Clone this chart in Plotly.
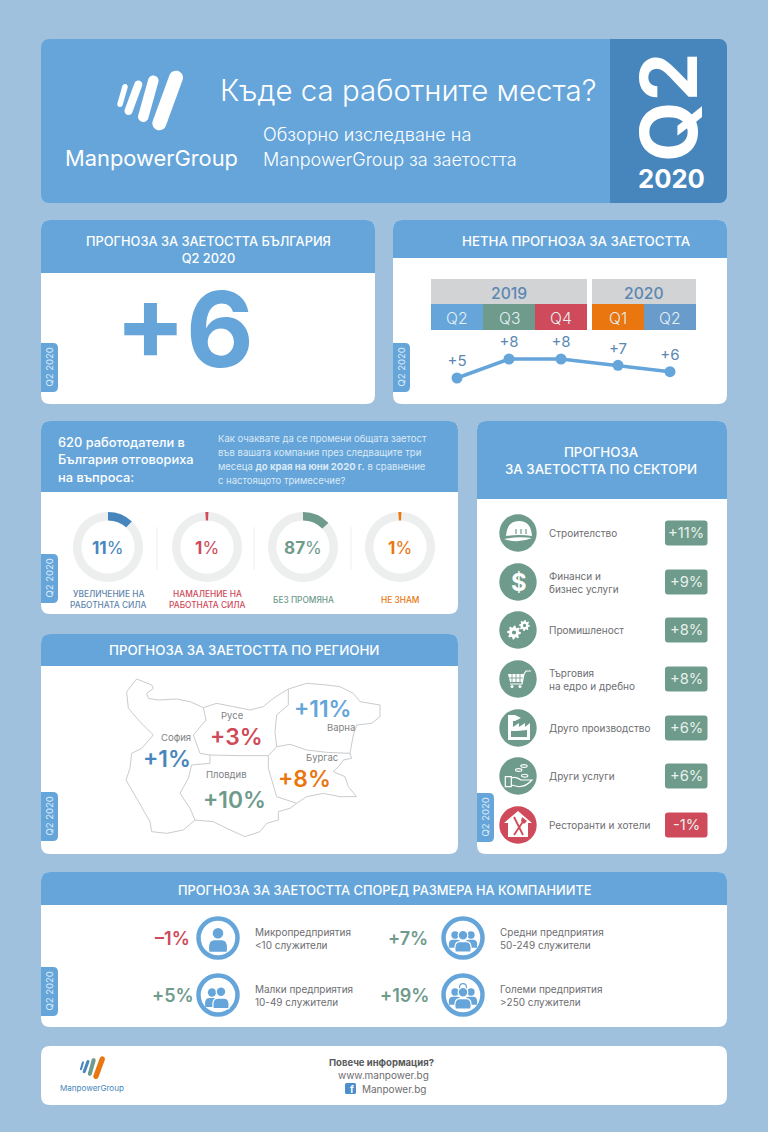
import numpy as np
import plotly.graph_objects as go

# --- data ---
net_quarters = ["Q2", "Q3", "Q4", "Q1", "Q2"]
net_years = ["2019", "2020"]
net_values = [5, 8, 8, 7, 6]
net_pos = [0, 1, 2, 3.096, 4.096]  # small gap where the year changes

answer_labels = [["УВЕЛИЧЕНИЕ НА", "РАБОТНАТА СИЛА"], ["НАМАЛЕНИЕ НА", "РАБОТНАТА СИЛА"], ["БЕЗ ПРОМЯНА"], ["НЕ ЗНАМ"]]
answer_values = [11, 1, 87, 1]
answer_arcs = [12, 1.6, 13, 1.6]  # how much of each ring is coloured in the original

region_names = ["София", "Русе", "Варна", "Пловдив", "Бургас"]
region_values = [1, 3, 11, 10, 8]

sector_labels = [["Строителство"], ["Финанси и", "бизнес услуги"], ["Промишленост"], ["Търговия", "на едро и дребно"],
                 ["Друго производство"], ["Други услуги"], ["Ресторанти и хотели"]]
sector_values = [11, 9, 8, 8, 6, 6, -1]

size_labels = [["Микропредприятия", "<10 служители"], ["Малки предприятия", "10-49 служители"],
               ["Средни предприятия", "50-249 служители"], ["Големи предприятия", ">250 служители"]]
size_values = [-1, 5, 7, 19]

W, H = 768, 1132
BG = "#A0C1DD"
BLUE = "#65A5DA"
DARK = "#4786BC"
GREEN = "#6E9B8B"
RED = "#CF4A5A"
ORANGE = "#E9760F"
GREY = "#6D6E71"
FONT = "Inter"
FS = 0.95

shapes = []
annotations = []


def text(x, y, s, size=12, color=GREY, anchor="center", angle=0, weight=None):
    f = dict(size=size*FS, color=color, family=FONT)
    if weight:
        f["weight"] = weight
    annotations.append(dict(x=x, y=y, xref="x", yref="y", text=s, showarrow=False, xanchor=anchor, yanchor="middle",
                            font=f, textangle=angle, borderpad=0))


def path(d, fill="white", line=None, width=0):
    shapes.append(dict(type="path", path=d, xref="x", yref="y", fillcolor=fill, layer="below",
                       line=dict(color=line or "rgba(0,0,0,0)", width=width)))


def rrect(x0, y0, x1, y1, r=9, tl=True, tr=True, br=True, bl=True, fill="white"):
    a, b, c, d = [r if k else 0 for k in (tl, tr, br, bl)]
    p = (f"M{x0+a},{y0} L{x1-b},{y0} Q{x1},{y0} {x1},{y0+b} L{x1},{y1-c} Q{x1},{y1} {x1-c},{y1} "
         f"L{x0+d},{y1} Q{x0},{y1} {x0},{y1-d} L{x0},{y0+a} Q{x0},{y0} {x0+a},{y0} Z")
    path(p, fill)


def circle(cx, cy, r, fill="white", line=None, width=0, ry=None):
    ry = ry or r
    shapes.append(dict(type="circle", xref="x", yref="y", x0=cx-r, x1=cx+r, y0=cy-ry, y1=cy+ry, fillcolor=fill, layer="below",
                       line=dict(color=line or "rgba(0,0,0,0)", width=width)))


def poly(pts, cx=0, cy=0, fill="white", line=None, width=0, close=True):
    d = "M" + " L".join(f"{cx+px:.2f},{cy+py:.2f}" for px, py in pts) + (" Z" if close else "")
    path(d, fill if close else "rgba(0,0,0,0)", line, width)


def capsule(x0, y0, x1, y1, w, fill="white"):
    ang = np.arctan2(y1-y0, x1-x0)
    t = np.linspace(np.pi/2, 3*np.pi/2, 12)
    pts = [(x0+w/2*np.cos(ang+a), y0+w/2*np.sin(ang+a)) for a in t]
    pts += [(x1+w/2*np.cos(ang+a-np.pi), y1+w/2*np.sin(ang+a-np.pi)) for a in t]
    poly(pts, fill=fill)


def card(x0, y0, x1, y1, head):
    rrect(x0, y0, x1, y1)
    if head:
        rrect(x0, y0, x1, head, tl=True, tr=True, br=False, bl=False, fill=BLUE)


def tab(x, y):
    rrect(x, y, x+17, y+49, r=5, tl=False, bl=False, fill=BLUE)
    text(x+8, y+24.5, "Q2 2020", 10, "#DCEBF7", angle=-90)


def logo(ox, oy, k, colors):
    stripes = [(5, 9, 0, 26.6, 5.5), (18.3, 6.8, 8.5, 33.3, 8), (33.3, 3, 23.3, 39, 10.5), (56, 0, 39.3, 45.6, 14)]
    for (a, b, c, d, w), col in zip(stripes, colors):
        capsule(ox+a*k, oy+b*k, ox+c*k, oy+d*k, w*k, col)


def gear(cx, cy, r, teeth=8):
    a = np.linspace(0, 2*np.pi, teeth*4, endpoint=False)
    rr = np.where(np.arange(teeth*4) % 4 < 2, r, r*0.72)
    poly(list(zip(rr*np.cos(a), rr*np.sin(a))), cx, cy)
    circle(cx, cy, r*0.3, GREEN)


def person(cx, cy, k, fill=BLUE, line=None, width=0):
    circle(cx, cy-5*k, 4.6*k, fill, line, width)
    path(f"M{cx-7.5*k},{cy+11*k} Q{cx-9*k},{cy+1*k} {cx-3*k},{cy+1*k} L{cx+3*k},{cy+1*k} "
         f"Q{cx+9*k},{cy+1*k} {cx+7.5*k},{cy+11*k} Z", fill, line, width)


# --- cards ---
rrect(41, 39, 727, 203, fill=BLUE)
rrect(610, 39, 727, 203, tl=False, bl=False, fill=DARK)
card(41, 220, 375, 404, 273)
card(393, 220, 727, 404, 258)
card(41, 421, 458, 614, 492)
card(41, 634, 458, 854, 666)
card(477, 421, 727, 854, 499)
card(41, 872, 727, 1027, 905)
card(41, 1046, 727, 1105, None)
for tx, ty in [(41, 343), (393, 343), (41, 554), (41, 792), (477, 793), (41, 967)]:
    tab(tx, ty)

# --- title block ---
logo(120, 77.7, 1.0, ["white"]*4)
text(151, 158, "ManpowerGroup", 23, "white")
text(408, 90, "Къде са работните места?", 31, "white", weight=300)
text(262, 134, "Обзорно изследване на", 19, "white", anchor="left", weight=300)
text(262, 159, "ManpowerGroup за заетостта", 19, "white", anchor="left", weight=300)
text(669, 107, "Q2", 82, "white", angle=-90, weight=700)
text(671, 178, "2020", 27, "white", weight=700)

# --- headline forecast ---
text(208, 249.5, "ПРОГНОЗА ЗА ЗАЕТОСТТА БЪЛГАРИЯ<br>Q2 2020", 13.5, "white", weight=500)
text(184, 329, f"{net_values[-1]:+d}", 110, BLUE, weight=700)

# --- net forecast table ---
text(576, 241, "НЕТНА ПРОГНОЗА ЗА ЗАЕТОСТТА", 14, "white", weight=500)
year_spans = [(431, 587), (592, 696)]
for yr, (x0, x1) in zip(net_years, year_spans):
    shapes.append(dict(type="rect", xref="x", yref="y", x0=x0, x1=x1, y0=279, y1=304, fillcolor="#D1D3D4", line_width=0, layer="below"))
    text((x0+x1)/2, 293, yr, 16.5, "#5B87B2", weight=500)
cell_x = [431, 483, 535, 592, 644]
cell_colors = [BLUE, GREEN, RED, ORANGE, "#6A9CCB"]
for q, cx, col in zip(net_quarters, cell_x, cell_colors):
    shapes.append(dict(type="rect", xref="x", yref="y", x0=cx, x1=cx+52, y0=304, y1=330, fillcolor=col, line_width=0, layer="below"))
    text(cx+26, 318, q, 16.5, "#E4EFF3", weight=300)

fig = go.Figure()
px_per_pos = 52
px_per_val = 6.33
fig.add_trace(go.Scatter(x=net_pos, y=net_values, mode="lines+markers+text", xaxis="x2", yaxis="y2",
                         text=[f"{v:+d}" for v in net_values], textposition="top center",
                         textfont=dict(size=15, color="#5B87B2", family=FONT),
                         line=dict(color=BLUE, width=3.5), marker=dict(size=11, color=BLUE),
                         cliponaxis=False, showlegend=False))

# --- survey question + rings ---
for i, s in enumerate(["620 работодатели в", "България отговориха", "на въпроса:"]):
    text(57, 442+17.5*i, s, 13.5, "white", anchor="left", weight=500)
q_lines = ["Как очаквате да се промени общата заетост", "във вашата компания през следващите три",
           "месеца <b>до края на юни 2020 г.</b> в сравнение", "с настоящото тримесечие?"]
for i, s in enumerate(q_lines):
    text(217, 438+14.3*i, s, 10, "#DCEAF6", anchor="left")

ring_x = [108, 207, 303, 400]
ring_y = 547
ring_r = 35
ring_colors = [DARK, RED, GREEN, ORANGE]
label_colors = ["#5F86AE", RED, GREEN, ORANGE]
ring_dir = ["clockwise", "clockwise", "counterclockwise", "clockwise"]
ring_rot = [0, -3, 0, -3]
for cx, arc, val, col, lcol, lab, d, rot in zip(ring_x, answer_arcs, answer_values, ring_colors, label_colors,
                                                answer_labels, ring_dir, ring_rot):
    fig.add_trace(go.Pie(values=[arc, 100-arc], sort=False, direction=d, rotation=rot, hole=0.76,
                         marker=dict(colors=[col, "#EDEEEE"], line=dict(width=0)), textinfo="none",
                         showlegend=False,
                         domain=dict(x=[(cx-ring_r)/W, (cx+ring_r)/W], y=[1-(ring_y+ring_r)/H, 1-(ring_y-ring_r)/H])))
    text(cx, ring_y+0.5, f"<b>{val}</b>%", 18, col)
    ys = [594, 605] if len(lab) == 2 else [600]
    for y, s in zip(ys, lab):
        text(cx, y, s, 8.8, lcol, weight=500)
for sx in [157, 254, 351]:
    shapes.append(dict(type="line", xref="x", yref="y", x0=sx, x1=sx, y0=527, y1=570, line=dict(color="#EEEEEE", width=1), layer="below"))

# --- regions ---
text(244, 650, "ПРОГНОЗА ЗА ЗАЕТОСТТА ПО РЕГИОНИ", 14, "white", weight=500)
outer = [(110, 42), (155, 60), (160, 70), (140, 85), (145, 100), (175, 105), (230, 102), (270, 110), (310, 128), (350, 115),
         (400, 125), (450, 135), (490, 125), (520, 100), (565, 72), (620, 55), (680, 60), (720, 65), (760, 85), (780, 110),
         (840, 120), (840, 155), (815, 175), (770, 180), (760, 210), (750, 265), (755, 280), (730, 285), (720, 300), (700, 320),
         (735, 335), (745, 365), (770, 395), (720, 395), (670, 385), (620, 395), (590, 415), (570, 430), (535, 440), (535, 465),
         (500, 475), (480, 500), (435, 515), (380, 490), (340, 470), (285, 465), (250, 495), (200, 505), (155, 500), (150, 470),
         (110, 400), (78, 345), (90, 310), (95, 265), (125, 250), (160, 210), (120, 170), (85, 130), (80, 80), (110, 42)]
borders = [[(310, 128), (318, 165), (280, 210), (300, 265), (330, 270), (330, 295), (275, 300), (265, 340), (240, 385), (270, 430), (285, 465)],
           [(330, 270), (420, 272), (505, 272), (530, 245), (525, 200), (530, 150), (565, 120), (565, 72)],
           [(530, 245), (570, 238), (620, 255), (680, 262), (750, 265)],
           [(505, 272), (505, 310), (530, 395), (590, 415)]]
for ln in [outer] + borders:
    poly([(100+a/3, 665+b/3) for a, b in ln], line="#C9CBCD", width=1, close=False)
name_xy = [(176, 737), (232, 715), (341, 727), (226, 774), (322, 757)]
val_xy = [(167, 758), (236, 736), (323, 708), (234, 799), (304, 778)]
reg_colors = [DARK, RED, BLUE, GREEN, ORANGE]
for n, v, (nx, ny), (vx, vy), col in zip(region_names, region_values, name_xy, val_xy, reg_colors):
    text(nx, ny, n, 10, "#808285")
    text(vx, vy, f"{v:+d}%", 24, col, weight=600)

# --- sectors ---
text(601, 460.5, "ПРОГНОЗА<br>ЗА ЗАЕТОСТТА ПО СЕКТОРИ", 14, "white", weight=500)
sector_y = [533, 582, 630, 679, 728, 776, 825]
for lab, v, cy in zip(sector_labels, sector_values, sector_y):
    col = RED if v < 0 else GREEN
    circle(518, cy, 18.7, col)
    rrect(665, cy-12.5, 707.5, cy+12.5, r=3, fill=col)
    text(686, cy, f"{v:+d}%", 15.5, "#E8F0EC")
    if len(lab) == 2:
        text(548, cy-6.5, lab[0], 10.5, GREY, anchor="left")
        text(548, cy+6.5, lab[1], 10.5, GREY, anchor="left")
    else:
        text(548, cy, lab[0], 10.5, GREY, anchor="left")

# sector icons
cy = sector_y[0]
path(f"M506,{cy+3} Q507,{cy-12} 519,{cy-12} Q531,{cy-12} 532,{cy+3} Q519,{cy+1} 506,{cy+3} Z")
path(f"M504,{cy+6} Q518,{cy+3} 532,{cy+5} Q518,{cy+11} 504,{cy+6} Z")
for dx in [-2, 3, 8]:
    shapes.append(dict(type="line", xref="x", yref="y", x0=518+dx, x1=518+dx, y0=cy-4, y1=cy+1, line=dict(color=GREEN, width=1.2), layer="below"))
text(518.5, sector_y[1], "$", 25, "white", weight=700)
gear(514, sector_y[2]+2.5, 7)
gear(524.5, sector_y[2]-4.5, 5.5)
cy = sector_y[3]
poly([(508, cy-5), (524, cy-5), (522, cy+3), (510, cy+3)], fill="white")
for gx in [512, 516, 520]:
    shapes.append(dict(type="line", xref="x", yref="y", x0=gx, x1=gx, y0=cy-5, y1=cy+3, line=dict(color=GREEN, width=0.8), layer="below"))
shapes.append(dict(type="line", xref="x", yref="y", x0=509, x1=523, y0=cy-1, y1=cy-1, line=dict(color=GREEN, width=0.8), layer="below"))
poly([(524, cy-5), (522, cy+5), (510, cy+5)], line="white", width=1.2, close=False)
poly([(524, cy-5), (526, cy-8), (531, cy-8)], line="white", width=1.2, close=False)
circle(512, cy+7.5, 1.5)
circle(520, cy+7.5, 1.5)
cy = sector_y[4]
poly([(-10, 12), (-10, -7), (-5, -7), (-5, -1), (1, -5), (1, -1), (7, -5), (7, -1), (12, -5), (12, 12)], 518, cy)
poly([(-7, 9), (-7, 3), (-1, 3), (9, 2), (9, 9)], 518, cy, fill=GREEN)
poly([(-10, -13), (-3, -13), (3, -10), (-3, -7), (-10, -7)], 518, cy)
cy = sector_y[5]
poly([(-12.7, 0.7), (-6.7, 0.7), (-6.7, 10.7), (-12.7, 10.7)], 518, cy, fill="rgba(0,0,0,0)", line="white", width=1.2)
path(f"M{518-6.7},{cy+2} Q{518-2},{cy} {518+3},{cy+4} L{518+14},{cy+4} Q{518+8},{cy+11} {518},{cy+10.5} L{518-6.7},{cy+9}",
     "rgba(0,0,0,0)", "white", 1.2)
for dx, dy in [(0.7, -6), (6, -10), (6.7, -0.3)]:
    circle(518+dx, cy+dy, 3.2, "rgba(0,0,0,0)", "white", 1.1, ry=1.4)
cy = sector_y[6]
poly([(0, -14), (14, -2), (10, -2), (10, 12), (-10, 12), (-10, -2), (-14, -2)], 518, cy)
shapes.append(dict(type="line", xref="x", yref="y", x0=514, x1=523, y0=cy-8, y1=cy+10, line=dict(color=RED, width=1.8), layer="below"))
shapes.append(dict(type="line", xref="x", yref="y", x0=524, x1=514, y0=cy-5, y1=cy+10, line=dict(color=RED, width=1.8), layer="below"))
poly([(522, cy-8), (527, cy-4), (524, cy-1), (521, cy-4)], fill=RED)

# --- company size ---
text(384, 890, "ПРОГНОЗА ЗА ЗАЕТОСТТА СПОРЕД РАЗМЕРА НА КОМПАНИИТЕ", 13.5, "white", weight=500)
icon_x = [218, 218, 463, 463]
icon_y = [938, 995, 938, 995]
val_x = [172, 173, 408, 404]
text_x = [254, 254, 499, 499]
for i, (lab, v) in enumerate(zip(size_labels, size_values)):
    col = RED if v < 0 else GREEN
    text(val_x[i], icon_y[i]+0.5, f"{v:+d}%".replace("-", "–"), 19, col, weight=600)
    circle(icon_x[i], icon_y[i], 19.5, "white", BLUE, 4.5)
    text(text_x[i], icon_y[i]-6.5, lab[0], 10.5, GREY, anchor="left")
    text(text_x[i], icon_y[i]+6.5, lab[1], 10.5, GREY, anchor="left")
    ix, iy = icon_x[i], icon_y[i]
    if i == 0:
        person(ix, iy+1, 1.15)
    if i == 1:
        person(ix-6, iy+2, 0.9)
        person(ix+3, iy+2, 1.05, line="white", width=1.2)
    if i >= 2:
        if i == 3:
            circle(ix, iy-8, 3.4, "white", BLUE, 1.2)
        person(ix-8, iy+1, 0.8)
        person(ix+8, iy+1, 0.8)
        person(ix, iy+2.5, 1.05, line="white", width=1.2)

# --- footer ---
logo(81, 1059, 0.38, ["#4786BC", DARK, GREEN, ORANGE])
text(92, 1088, "ManpowerGroup", 8.5, DARK)
text(381, 1062, "Повече информация?", 10, "#58595B", weight=700)
text(383, 1075, "www.manpower.bg", 10.5, GREY)
rrect(345, 1083, 356, 1094, r=1.5, fill="#4C8FCB")
text(351.5, 1089, "f", 10, "white", weight=700)
text(361, 1088.5, "Manpower.bg", 10.5, GREY, anchor="left")

# net forecast axes: pixel box 440..690 x 340..385, scales follow the table cells
box_x0, box_x1, box_y0, box_y1 = 440, 690, 340, 385
x0_val = (box_x0-457)/px_per_pos
x1_val = (box_x1-457)/px_per_pos
y_low = 5-(box_y1-378)/px_per_val
y_high = 5+(378-box_y0)/px_per_val

fig.update_layout(
    width=W, height=H, margin=dict(l=0, r=0, t=0, b=0), paper_bgcolor=BG, plot_bgcolor="rgba(0,0,0,0)",
    font=dict(family=FONT),
    xaxis=dict(range=[0, W], visible=False, fixedrange=True),
    yaxis=dict(range=[H, 0], visible=False, fixedrange=True),
    xaxis2=dict(domain=[box_x0/W, box_x1/W], range=[x0_val, x1_val], visible=False, anchor="y2"),
    yaxis2=dict(domain=[1-box_y1/H, 1-box_y0/H], range=[y_low, y_high], visible=False, anchor="x2"),
    shapes=shapes, annotations=annotations,
)

fig.write_html("out.html", config=dict(displayModeBar=False),
               post_script="document.body.style.margin='0';document.body.style.overflow='hidden';")
